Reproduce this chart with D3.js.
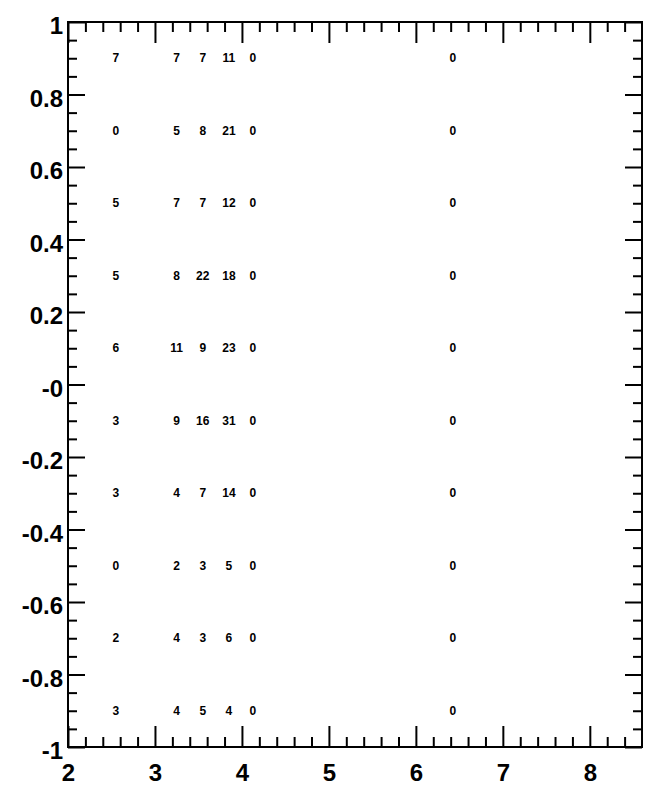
<!doctype html>
<html>
<head>
<meta charset="utf-8">
<script src="https://d3js.org/d3.v7.min.js"></script>
<style>
  body { margin: 0; background: #fff; }
  svg { font-family: "Liberation Sans", Arial, Helvetica, sans-serif; font-weight: bold; }
</style>
</head>
<body>
<svg id="chart" width="652" height="793"></svg>
<script>
// histogram bins (x edges are variable width)
var xEdges = [2, 3.1, 3.4, 3.7, 4.0, 4.25, 8.6];
var yCenters = [0.9, 0.7, 0.5, 0.3, 0.1, -0.1, -0.3, -0.5, -0.7, -0.9];
// bin contents, one row per y bin (top to bottom), one entry per x bin
var counts = [
  [7, 7, 7, 11, 0, 0],
  [0, 5, 8, 21, 0, 0],
  [5, 7, 7, 12, 0, 0],
  [5, 8, 22, 18, 0, 0],
  [6, 11, 9, 23, 0, 0],
  [3, 9, 16, 31, 0, 0],
  [3, 4, 7, 14, 0, 0],
  [0, 2, 3, 5, 0, 0],
  [2, 4, 3, 6, 0, 0],
  [3, 4, 5, 4, 0, 0]
];
var xTicks = [2, 3, 4, 5, 6, 7, 8];
var yTicks = [1, 0.8, 0.6, 0.4, 0.2, 0, -0.2, -0.4, -0.6, -0.8, -1];
var yTickLabels = ["1", "0.8", "0.6", "0.4", "0.2", "-0", "-0.2", "-0.4", "-0.6", "-0.8", "-1"];

var margin = {left: 68, top: 22, right: 10, bottom: 46};
var width = 652 - margin.left - margin.right;
var height = 793 - margin.top - margin.bottom;

var svg = d3.select("#chart");
var g = svg.append("g").attr("transform", "translate(" + margin.left + "," + margin.top + ")");

var x = d3.scaleLinear().domain([2, 8.6]).range([0, width]);
var y = d3.scaleLinear().domain([-1, 1]).range([height, 0]);

var xMinor = d3.range(2, 8.6, 0.2).filter(function(v) { return Math.abs(v - Math.round(v)) > 1e-6; });
var yMinor = d3.range(-1, 1, 0.05).filter(function(v) { return Math.abs(v * 5 - Math.round(v * 5)) > 1e-6; });

function styleAxis(sel) {
  sel.select(".domain").remove();
  sel.selectAll("line").attr("stroke", "#000").attr("stroke-width", 2);
}

// bottom axis with labels
g.append("g").attr("transform", "translate(0," + height + ")")
  .call(d3.axisBottom(x).tickValues(xTicks).tickSizeInner(-21).tickSizeOuter(0).tickPadding(17).tickFormat(d3.format("d")))
  .call(styleAxis)
  .selectAll("text").attr("font-size", 24).attr("fill", "#000");
g.append("g").attr("transform", "translate(0," + height + ")")
  .call(d3.axisBottom(x).tickValues(xMinor).tickSizeInner(-10).tickSizeOuter(0).tickFormat(""))
  .call(styleAxis);
// top axis
g.append("g")
  .call(d3.axisTop(x).tickValues(xTicks).tickSizeInner(-21).tickSizeOuter(0).tickFormat(""))
  .call(styleAxis);
g.append("g")
  .call(d3.axisTop(x).tickValues(xMinor).tickSizeInner(-10).tickSizeOuter(0).tickFormat(""))
  .call(styleAxis);

// left axis with labels
g.append("g")
  .call(d3.axisLeft(y).tickValues(yTicks).tickSizeInner(-17).tickSizeOuter(0).tickPadding(5)
    .tickFormat(function(d, i) { return yTickLabels[i]; }))
  .call(styleAxis)
  .selectAll("text").attr("font-size", 24).attr("fill", "#000").attr("dy", "0.48em");
g.append("g")
  .call(d3.axisLeft(y).tickValues(yMinor).tickSizeInner(-9).tickSizeOuter(0).tickFormat(""))
  .call(styleAxis);
// right axis
g.append("g").attr("transform", "translate(" + width + ",0)")
  .call(d3.axisRight(y).tickValues(yTicks).tickSizeInner(-17).tickSizeOuter(0).tickFormat(""))
  .call(styleAxis);
g.append("g").attr("transform", "translate(" + width + ",0)")
  .call(d3.axisRight(y).tickValues(yMinor).tickSizeInner(-9).tickSizeOuter(0).tickFormat(""))
  .call(styleAxis);

// frame
g.append("rect").attr("x", 0).attr("y", 0).attr("width", width).attr("height", height)
  .attr("fill", "none").attr("stroke", "#000").attr("stroke-width", 2);

// bin contents as text at bin centres
var cells = [];
counts.forEach(function(row, j) {
  row.forEach(function(v, i) {
    cells.push({xc: (xEdges[i] + xEdges[i + 1]) / 2, yc: yCenters[j], v: v});
  });
});
g.append("g").selectAll("text").data(cells).enter().append("text")
  .attr("x", function(d) { return x(d.xc); })
  .attr("y", function(d) { return y(d.yc); })
  .attr("dy", "0.35em")
  .attr("text-anchor", "middle")
  .attr("font-size", 12)
  .attr("fill", "#000")
  .text(function(d) { return d.v; });
</script>
</body>
</html>
